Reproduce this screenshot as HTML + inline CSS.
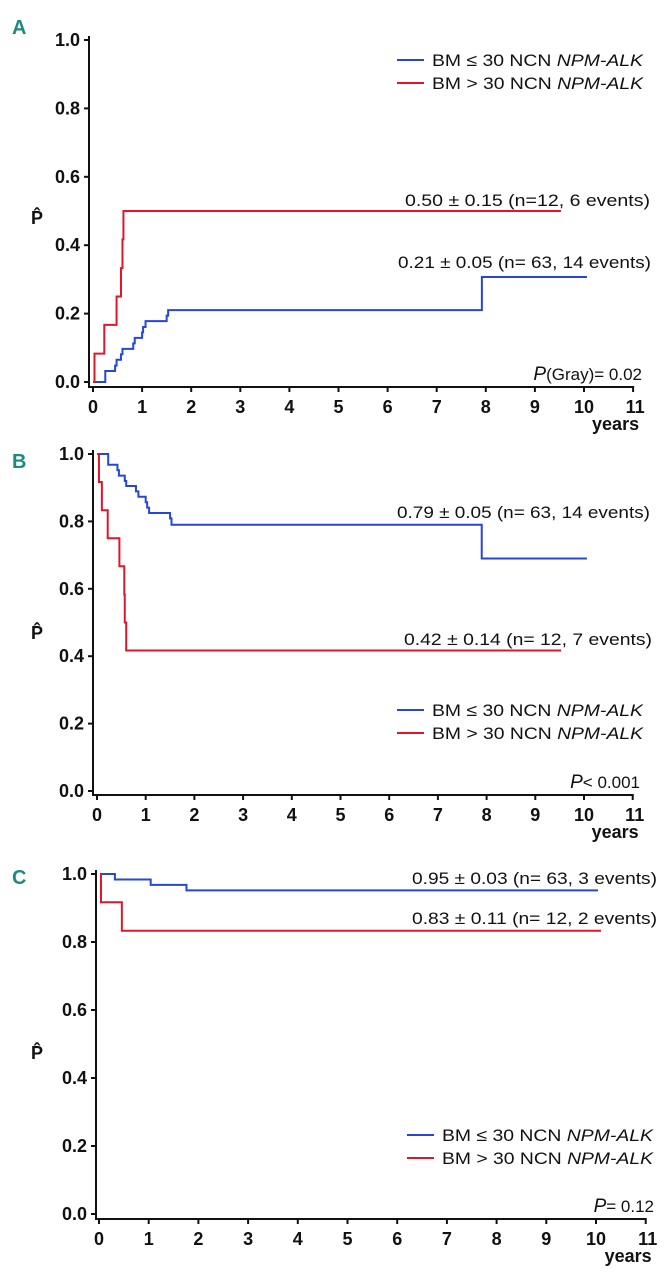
<!DOCTYPE html>
<html><head><meta charset="utf-8">
<style>
html,body{margin:0;padding:0;background:#fff;}
svg{display:block;font-family:"Liberation Sans",Arial,sans-serif;}
.tick{font-weight:bold;font-size:18px;fill:#111;}
.ann{font-size:17px;fill:#111;}
.plet{font-weight:bold;font-size:20px;fill:#1f8a80;}
</style></head>
<body>
<svg id="fig" width="665" height="1280" viewBox="0 0 665 1280"></svg>
<script>
// ---- data ----
const xTicks = [0,1,2,3,4,5,6,7,8,9,10,11];
const yTicks = [0.0,0.2,0.4,0.6,0.8,1.0];
const yTickLabels = ["0.0","0.2","0.4","0.6","0.8","1.0"];
// Panel A (cumulative incidence)
const aBlueT = [0,0.25,0.45,0.48,0.57,0.6,0.82,0.85,1.0,1.02,1.07,1.5,1.53,7.92,10.06];
const aBlueV = [0,0.032,0.048,0.065,0.081,0.097,0.113,0.129,0.145,0.161,0.178,0.194,0.21,0.307,0.307];
const aRedT = [0.02,0.03,0.23,0.48,0.57,0.6,0.62,9.53];
const aRedV = [0,0.083,0.167,0.25,0.333,0.417,0.5,0.5];
// Panel B (survival)
const bBlueT = [0,0.23,0.42,0.45,0.57,0.6,0.8,0.85,1.0,1.03,1.07,1.5,1.53,7.9,10.06];
const bBlueV = [1,0.968,0.952,0.936,0.92,0.905,0.889,0.873,0.857,0.841,0.825,0.809,0.79,0.69,0.69];
const bRedT = [0.01,0.04,0.1,0.22,0.46,0.56,0.57,0.6,9.53];
const bRedV = [1,0.917,0.833,0.75,0.667,0.583,0.5,0.417,0.417];
// Panel C (survival)
const cBlueT = [0.02,0.32,1.04,1.76,10.04];
const cBlueV = [1,0.984,0.968,0.952,0.952];
const cRedT = [0.02,0.04,0.46,10.1];
const cRedV = [1,0.917,0.833,0.833];

const NS="http://www.w3.org/2000/svg";
const svg=document.getElementById('fig');
function mk(tag,attrs,parent){const e=document.createElementNS(NS,tag);for(const k in attrs)e.setAttribute(k,attrs[k]);(parent||svg).appendChild(e);return e;}

const BLUE="#2447d6", RED="#e0172a";

function panel(p){
  const g=mk('g',{});
  
  
  const sx=t=>p.x0+t*p.dx;
  const sy=v=>p.y0-v*p.dy;
  // letter
  const L=mk('text',{x:12,y:p.letY,class:'plet'},g);L.textContent=p.letter;
  
  
  // axes
  const ya=mk('line',{x1:p.ax,y1:p.axTop,x2:p.ax,y2:p.axY,stroke:'#111','stroke-width':2},g);
  
  
  const xa=mk('line',{x1:p.ax-1,y1:p.axY,x2:sx(11)+1,y2:p.axY,stroke:'#111','stroke-width':2},g);
  
  
  yTicks.forEach((v,i)=>{
    mk('line',{x1:p.ax-5,y1:sy(v),x2:p.ax,y2:sy(v),stroke:'#111','stroke-width':2},g);
    const t=mk('text',{x:p.ax-9,y:sy(v)+6,class:'tick','text-anchor':'end'},g);
    t.textContent=yTickLabels[i];
    
    
  });
  xTicks.forEach(v=>{
    mk('line',{x1:sx(v),y1:p.axY,x2:sx(v),y2:p.axY+5,stroke:'#111','stroke-width':2},g);
    const t=mk('text',{x:sx(v)+(v==11?2:0),y:p.axY+26,class:'tick','text-anchor':'middle'},g);
    t.textContent=v;
    
    
  });
  const yr=mk('text',{x:sx(11)+6,y:p.axY+43,class:'tick','text-anchor':'end'},g);
  yr.textContent='years';
  
  
  const yl=mk('text',{x:37,y:p.pY,class:'tick','text-anchor':'middle'},g);
  yl.textContent='P\u0302';
  
  
  // curves
  function step(T,V,color,name){
    let d='M'+sx(T[0])+','+sy(V[0]);
    for(let i=1;i<T.length;i++){d+=' H'+sx(T[i])+' V'+sy(V[i]);}
    const path=mk('path',{d:d,fill:'none',stroke:color,'stroke-width':2},g);
    
    
  }
  step(p.blueT,p.blueV,BLUE,'curve-bm-le-30');
  step(p.redT,p.redV,RED,'curve-bm-gt-30');
  // annotations
  p.anns.forEach(a=>{
    const t=mk('text',{x:a.x,y:a.y,class:'ann',textLength:a.w,lengthAdjust:'spacingAndGlyphs'},g);
    t.innerHTML=a.html;
    
    
  });
  // legend
  [[BLUE,'BM \u2264 30 NCN '],[RED,'BM &gt; 30 NCN ']].forEach((it,i)=>{
    const ly=p.legY+i*23;
    const lg=mk('g',{},g);
    
    
    mk('line',{x1:p.legX,y1:ly,x2:p.legX+27,y2:ly,stroke:it[0],'stroke-width':2},lg);
    const t=mk('text',{x:p.legX+35,y:ly+6,class:'ann',textLength:211,lengthAdjust:'spacingAndGlyphs'},lg);
    t.innerHTML=it[1]+'<tspan font-style="italic">NPM-ALK</tspan>';
  });
  const pv=mk('text',{x:p.pvX,y:p.axY-7,class:'ann','text-anchor':'end'},g);
  pv.innerHTML=p.pv;
  
  
}

panel({id:'a',letter:'A',letY:34,x0:93,dx:49.1,y0:382,dy:342,ax:89,axTop:36,axY:387,pY:224,
  blueT:aBlueT,blueV:aBlueV,redT:aRedT,redV:aRedV,legX:397,legY:60,pvX:642,
  pv:'<tspan font-style="italic" font-size="19">P</tspan>(Gray)= 0.02',
  anns:[{x:405,y:206,w:245,name:'annotation-red',html:'0.50 \u00b1 0.15 (n=12,  6 events)'},
        {x:398,y:268,w:253,name:'annotation-blue',html:'0.21 \u00b1 0.05 (n= 63, 14 events)'}]});
panel({id:'b',letter:'B',letY:468,x0:97,dx:48.7,y0:791,dy:337,ax:93,axTop:450,axY:795,pY:639,
  blueT:bBlueT,blueV:bBlueV,redT:bRedT,redV:bRedV,legX:397,legY:710,pvX:640,
  pv:'<tspan font-style="italic" font-size="19">P</tspan>&lt; 0.001',
  anns:[{x:397,y:518,w:253,name:'annotation-blue',html:'0.79 \u00b1 0.05 (n= 63, 14 events)'},
        {x:404,y:645,w:248,name:'annotation-red',html:'0.42 \u00b1 0.14 (n= 12,  7 events)'}]});
panel({id:'c',letter:'C',letY:884,x0:99,dx:49.7,y0:1214,dy:340,ax:96,axTop:870,axY:1219,pY:1059,
  blueT:cBlueT,blueV:cBlueV,redT:cRedT,redV:cRedV,legX:407,legY:1135,pvX:654,
  pv:'<tspan font-style="italic" font-size="19">P</tspan>= 0.12',
  anns:[{x:412,y:884,w:245,name:'annotation-blue',html:'0.95 \u00b1 0.03 (n= 63, 3 events)'},
        {x:412,y:924,w:245,name:'annotation-red',html:'0.83 \u00b1 0.11 (n= 12, 2 events)'}]});
</script>
</body></html>
